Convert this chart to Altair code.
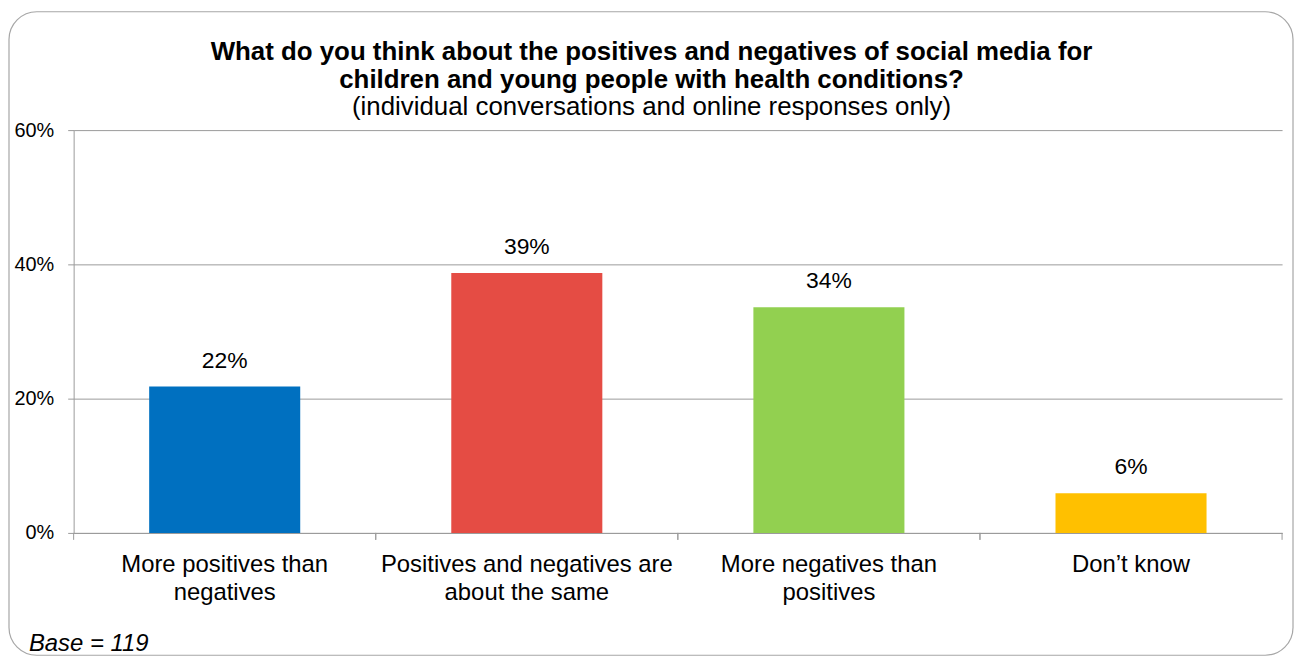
import altair as alt
import pandas as pd

categories = [
    "More positives than negatives",
    "Positives and negatives are about the same",
    "More negatives than positives",
    "Don\u2019t know",
]
label_lines = [
    ["More positives than", "negatives"],
    ["Positives and negatives are", "about the same"],
    ["More negatives than", "positives"],
    ["Don\u2019t know"],
]
shares = [0.218, 0.387, 0.336, 0.059]
colors = ["#0070C0", "#E54C44", "#92D050", "#FFC000"]

title_lines = [
    "What do you think about the positives and negatives of social media for",
    "children and young people with health conditions?",
]
subtitle = "(individual conversations and online responses only)"
base_note = "Base = 119"
y_ticks = [0, 0.2, 0.4, 0.6]

FONT = "Liberation Sans"
W, H = 1215, 405

df = pd.DataFrame({"cat": categories, "share": shares})


def esc(s):
    return s.replace("'", "\\'")


parts = []
for c, lines in zip(categories, label_lines):
    arr = "[" + ",".join("'" + esc(l) + "'" for l in lines) + "]"
    parts.append(f"datum.label == '{esc(c)}' ? {arr} : ")
label_expr = "".join(parts) + "datum.label"

xscale = alt.Scale(paddingInner=0.5, paddingOuter=0.25)
slot_scale = alt.Scale(paddingInner=0, paddingOuter=0)

base = alt.Chart(df)

bars = base.mark_bar().encode(
    x=alt.X(
        "cat:N",
        sort=categories,
        scale=xscale,
        title=None,
        axis=alt.Axis(
            labelAngle=0,
            labelExpr=label_expr,
            labelFont=FONT,
            labelFontSize=24,
            labelColor="#000000",
            labelLineHeight=28,
            labelPadding=20,
            labelLimit=0,
            ticks=False,
            domainColor="#9a9a9a",
            labelBaseline="top",
        ),
    ),
    y=alt.Y(
        "share:Q",
        scale=alt.Scale(domain=[0, 0.6], nice=False),
        title=None,
        axis=alt.Axis(
            values=y_ticks,
            format=".0%",
            labelFont=FONT,
            labelFontSize=20,
            labelColor="#000000",
            labelPadding=14,
            tickSize=6,
            tickColor="#9a9a9a",
            domainColor="#9a9a9a",
            gridColor="#9a9a9a",
            grid=True,
        ),
    ),
    color=alt.Color("cat:N", sort=categories, scale=alt.Scale(domain=categories, range=colors), legend=None),
)

labels = base.mark_text(baseline="bottom", dy=-14, font=FONT, fontSize=23, color="#000000").encode(
    x=alt.X("cat:N", sort=categories),
    y=alt.Y("share:Q"),
    text=alt.Text("share:Q", format=".0%"),
)

# category-boundary ticks, drawn on a full-width slot scale
tick_start = base.mark_rule(color="#9a9a9a", strokeWidth=1).encode(
    x=alt.X("cat:N", sort=categories, scale=slot_scale, axis=None, bandPosition=0),
    y=alt.value(H),
    y2=alt.value(H + 7),
)
tick_end = base.mark_rule(color="#9a9a9a", strokeWidth=1).encode(
    x=alt.X("cat:N", sort=categories, scale=slot_scale, axis=None, bandPosition=1),
    y=alt.value(H),
    y2=alt.value(H + 7),
)
ticks = alt.layer(tick_start, tick_end)

one = alt.Data(values=[{}])
frame = alt.Chart(one).mark_rect(
    filled=False, stroke="#a6a6a6", strokeWidth=1.2, cornerRadius=28
).encode(x=alt.value(-65), x2=alt.value(1226), y=alt.value(-119), y2=alt.value(528))

TX = 581
t1 = alt.Chart(one).mark_text(font=FONT, fontSize=26, fontWeight="bold", align="center", baseline="middle").encode(
    x=alt.value(TX), y=alt.value(-78), text=alt.value(title_lines[0]))
t2 = alt.Chart(one).mark_text(font=FONT, fontSize=26, fontWeight="bold", align="center", baseline="middle").encode(
    x=alt.value(TX), y=alt.value(-50), text=alt.value(title_lines[1]))
t3 = alt.Chart(one).mark_text(font=FONT, fontSize=26, align="center", baseline="middle").encode(
    x=alt.value(TX), y=alt.value(-23), text=alt.value(subtitle))
note = alt.Chart(one).mark_text(font=FONT, fontSize=24, fontStyle="italic", align="left", baseline="middle").encode(
    x=alt.value(-45), y=alt.value(517), text=alt.value(base_note))

main = alt.layer(frame, bars, labels, t1, t2, t3, note)

chart = alt.layer(main, ticks).resolve_scale(x="independent").properties(
    width=W,
    height=H,
    autosize=alt.AutoSizeParams(type="none"),
    padding={"left": 66, "top": 121, "right": 13, "bottom": 124},
    background="#ffffff",
).configure_view(stroke=None)

chart.save("out.html", embed_options={"renderer": "svg", "actions": False})
